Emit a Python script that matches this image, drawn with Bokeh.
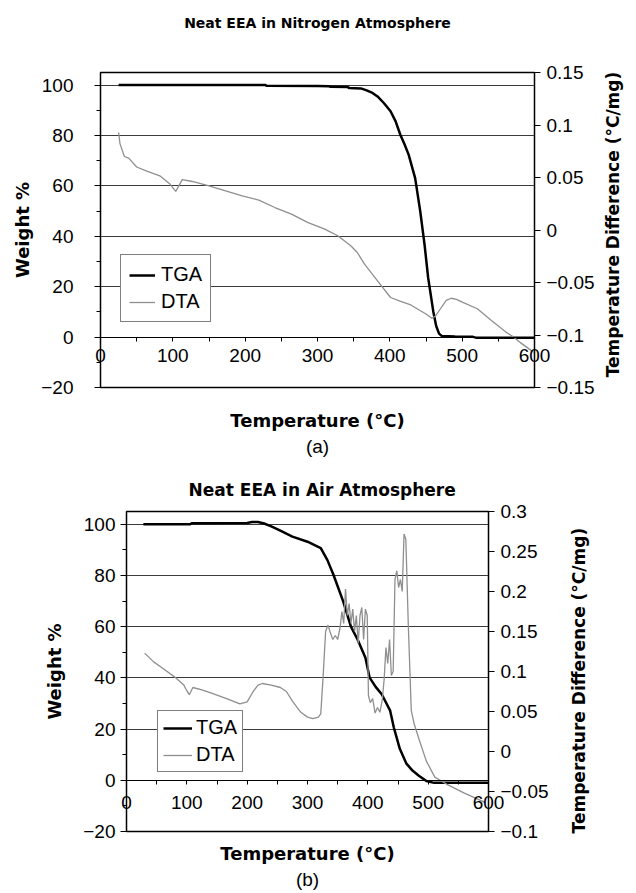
import math
from bokeh.plotting import figure
from bokeh.models import Range1d, LinearAxis, FixedTicker, Legend, LegendItem, Title
from bokeh.layouts import column
from bokeh.embed import file_html
from bokeh.resources import INLINE

# ---------------- data: (a) Neat EEA in nitrogen ----------------
n2_tga_temp = [25, 100, 200, 228, 230, 300, 316, 318, 342, 344,
               360, 368, 376, 383, 392, 401, 408, 414.5, 420, 426,
               435, 442, 448, 453, 460, 464, 468, 472, 490, 515,
               520, 600]
n2_tga_wt = [100, 100, 100, 100, 99.7, 99.6, 99.5, 99.3, 99.2, 98.8,
             98.7, 97.9, 96.9, 95.5, 92.8, 89.6, 85.6, 80.3, 76.7, 72.4,
             63.1, 50, 36.7, 23.5, 10.3, 4.5, 1.4, 0.4, 0.2, 0.1,
             -0.3, -0.3]

n2_dta_temp = [25, 27, 33, 39, 50, 64, 82, 96, 104, 109,
               113, 127, 150, 173, 196, 219, 241, 264, 287, 310,
               328, 346, 355, 365, 383, 401, 415, 428, 440, 450,
               458, 463, 470, 478, 485, 492, 501, 521, 540, 560,
               569, 580, 600]
n2_dta_val = [0.093, 0.082, 0.070, 0.0685, 0.060, 0.056, 0.0516, 0.0437, 0.0367, 0.043,
              0.048, 0.0462, 0.0421, 0.0373, 0.0326, 0.0285, 0.0214, 0.0151, 0.0071, 0.0009,
              -0.0055, -0.015, -0.0214, -0.0325, -0.0484, -0.0643, -0.068, -0.071, -0.076, -0.080,
              -0.084, -0.082, -0.075, -0.067, -0.065, -0.066, -0.069, -0.075, -0.086, -0.097,
              -0.101, -0.107, -0.117]

# ---------------- data: (b) Neat EEA in air ----------------
air_tga_temp = [28, 105, 108, 200, 208, 218, 228, 240, 255, 275,
                300, 322, 333, 343, 359, 372, 383, 396, 403, 413,
                423, 437, 443, 453, 464, 474, 484, 497, 510, 600]
air_tga_wt = [100, 100, 100.4, 100.5, 100.9, 100.9, 100.3, 99.2, 97.5, 95.2,
              93.2, 90.7, 86, 80.3, 70, 60, 55, 47.9, 40.1, 36.5,
              33.6, 27.2, 20.7, 12.3, 6.5, 3.8, 1.9, -0.3, -1, -1]

air_dta_temp = [30, 45, 60, 80, 95, 100, 104, 110, 125, 141,
                168, 188, 200, 210, 218, 225, 240, 255, 265, 275,
                289, 300, 309, 318, 322, 326, 330, 334, 338, 342,
                346, 350, 354, 357, 360, 363, 366, 369, 372, 375,
                378, 381, 384, 387, 390, 393, 396, 399, 401, 404,
                408, 412, 416, 420, 424, 427, 430, 433, 436, 439,
                442, 445, 448, 451, 454, 457, 460, 463, 467, 472,
                477, 485, 497, 511, 531, 560, 595]
air_dta_val = [0.123, 0.112, 0.104, 0.093, 0.083, 0.076, 0.071, 0.080, 0.077, 0.073,
               0.0655, 0.0595, 0.062, 0.075, 0.083, 0.085, 0.083, 0.080, 0.075, 0.063,
               0.049, 0.043, 0.041, 0.043, 0.047, 0.095, 0.150, 0.158, 0.148, 0.140,
               0.145, 0.140, 0.155, 0.175, 0.160, 0.203, 0.170, 0.185, 0.160, 0.178,
               0.150, 0.170, 0.135, 0.170, 0.180, 0.140, 0.178, 0.170, 0.070, 0.061,
               0.066, 0.048, 0.055, 0.049, 0.065, 0.090, 0.130, 0.110, 0.140, 0.095,
               0.100, 0.215, 0.226, 0.205, 0.215, 0.200, 0.272, 0.265, 0.160, 0.051,
               0.034, 0.015, -0.012, -0.032, -0.041, -0.052, -0.064]

# ---------------- axes ----------------
temp_ticks = [0, 100, 200, 300, 400, 500, 600]
temp_minor = [50, 150, 250, 350, 450, 550]
weight_ticks = [-20, 0, 20, 40, 60, 80, 100]
weight_minor = [-10, 10, 30, 50, 70, 90]
weight_grid = [0, 20, 40, 60, 80, 100]
n2_dta_ticks = [-0.15, -0.1, -0.05, 0, 0.05, 0.1, 0.15]
n2_dta_labels = ["\u22120.15", "\u22120.1", "\u22120.05", "0", "0.05", "0.1", "0.15"]
air_dta_ticks = [-0.1, -0.05, 0, 0.05, 0.1, 0.15, 0.2, 0.25, 0.3]
air_dta_labels = ["\u22120.1", "\u22120.05", "0", "0.05", "0.1", "0.15", "0.2", "0.25", "0.3"]

REG = "Liberation Sans"
BOLD = "DejaVu Sans"
TICK_SIZE = "19px"
BOLD_SIZE = "18px"
RLAB_SIZE = "17px"
RLAB_TEXT = "Temperature Difference (\u00b0C/mg)"


def bold_text(obj, prefix, size):
    setattr(obj, prefix + "_text_font", BOLD)
    setattr(obj, prefix + "_text_font_style", "bold")
    setattr(obj, prefix + "_text_font_size", size)
    setattr(obj, prefix + "_text_color", "black")


def make_chart(title, title_size, title_mode, title_offset, title_standoff,
               tga_t, tga_w, dta_t, dta_v, dta_range, dta_ticks, dta_labels,
               width, height, mb_left, mb_right, mb_top, mb_bottom,
               ylab_standoff, ytick_standoff, rlab_standoff, rlab_center,
               xtick_standoff, xlab_standoff, sub_text, sub_standoff,
               legend_loc, legend_pad, legend_spacing, legend_label_h, legend_glyph_w,
               legend_standoff):
    p = figure(width=width, height=height, x_range=Range1d(0, 600), y_range=Range1d(-20, 105),
               output_backend="svg", toolbar_location=None,
               min_border_left=mb_left, min_border_right=mb_right,
               min_border_top=mb_top, min_border_bottom=mb_bottom)
    p.frame_align = False
    p.background_fill_color = "white"
    p.border_fill_color = "white"
    p.outline_line_color = "black"
    p.outline_line_width = 1.5
    p.extra_y_ranges = {"dta": Range1d(*dta_range)}
    xa = p.below[0]
    ya = p.left[0]

    if title_mode == "title":
        p.title.text = title
        p.title.align = "left"
        p.title.offset = title_offset
        p.title.text_font = BOLD
        p.title.text_font_style = "bold"
        p.title.text_font_size = title_size
        p.title.text_color = "black"
        p.title.standoff = title_standoff
    else:
        # chart title written as the label of an empty axis above the frame
        ta = LinearAxis(ticker=FixedTicker(ticks=[]), major_tick_out=0, major_tick_in=0,
                        axis_line_color=None, major_tick_line_color=None,
                        minor_tick_line_color=None, major_label_text_color=None)
        ta.axis_label = title
        bold_text(ta, "axis_label", title_size)
        ta.axis_label_standoff = title_standoff
        p.add_layout(ta, "above")

    # grid
    p.xgrid.visible = False
    p.ygrid.ticker = FixedTicker(ticks=weight_grid)
    p.ygrid.grid_line_color = "#3a3a3a"
    p.ygrid.grid_line_width = 1

    # left axis
    ya.ticker = FixedTicker(ticks=weight_ticks, minor_ticks=weight_minor)
    ya.major_label_overrides = {-20: "\u221220"}
    ya.major_tick_in = 0
    ya.major_tick_out = 6
    ya.minor_tick_in = 0
    ya.minor_tick_out = 4
    ya.axis_line_color = "black"
    ya.major_tick_line_color = "black"
    ya.minor_tick_line_color = "black"
    ya.major_label_text_font = REG
    ya.major_label_text_font_size = TICK_SIZE
    ya.major_label_text_color = "black"
    ya.major_label_standoff = ytick_standoff
    ya.axis_label = "Weight %"
    bold_text(ya, "axis_label", BOLD_SIZE)
    ya.axis_label_standoff = ylab_standoff

    # x axis line and ticks crossing at weight = 0
    xa.fixed_location = 0
    xa.ticker = FixedTicker(ticks=temp_ticks, minor_ticks=temp_minor)
    xa.major_tick_in = 0
    xa.major_tick_out = 4
    xa.minor_tick_in = 0
    xa.minor_tick_out = 4
    xa.axis_line_color = "black"
    xa.major_tick_line_color = "black"
    xa.minor_tick_line_color = "black"
    xa.major_label_text_color = None

    # x tick labels (drawn up inside the frame, just under the 0 line) + axis title
    xl = LinearAxis(ticker=FixedTicker(ticks=temp_ticks))
    xl.major_tick_in = 0
    xl.major_tick_out = 0
    xl.major_tick_line_color = None
    xl.minor_tick_line_color = None
    xl.axis_line_color = None
    xl.major_label_text_font = REG
    xl.major_label_text_font_size = TICK_SIZE
    xl.major_label_text_color = "black"
    xl.major_label_standoff = xtick_standoff
    xl.axis_label = "Temperature (\u00b0C)"
    bold_text(xl, "axis_label", BOLD_SIZE)
    xl.axis_label_standoff = xlab_standoff
    p.add_layout(xl, "below")

    p.add_layout(Title(text=sub_text, align="center", text_font=REG,
                       text_font_style="normal", text_font_size=TICK_SIZE,
                       text_color="black", standoff=sub_standoff), "below")

    # right axis
    ra = LinearAxis(y_range_name="dta",
                    ticker=FixedTicker(ticks=dta_ticks),
                    major_label_overrides=dict(zip(dta_ticks, dta_labels)))
    ra.major_tick_in = 0
    ra.major_tick_out = 6
    ra.minor_tick_line_color = None
    ra.axis_line_color = "black"
    ra.major_tick_line_color = "black"
    ra.major_label_text_font = REG
    ra.major_label_text_font_size = TICK_SIZE
    ra.major_label_text_color = "black"
    ra.major_label_standoff = 6
    p.add_layout(ra, "right")

    # title of the right axis, written as the single rotated label of an outer axis
    rt = LinearAxis(y_range_name="dta", ticker=FixedTicker(ticks=[rlab_center]),
                    major_label_overrides={rlab_center: RLAB_TEXT},
                    major_label_orientation=math.pi / 2)
    rt.major_tick_in = 0
    rt.major_tick_out = 0
    rt.major_tick_line_color = None
    rt.minor_tick_line_color = None
    rt.axis_line_color = None
    bold_text(rt, "major_label", RLAB_SIZE)
    rt.major_label_standoff = rlab_standoff
    p.add_layout(rt, "right")

    # series
    r_tga = p.line(tga_t, tga_w, line_color="black", line_width=2.5)
    r_dta = p.line(dta_t, dta_v, y_range_name="dta", line_color="#8f8f8f", line_width=1.3)

    legend = Legend(items=[LegendItem(label="TGA", renderers=[r_tga]),
                           LegendItem(label="DTA", renderers=[r_dta])],
                    location=legend_loc)
    legend.border_line_color = "black"
    legend.border_line_width = 1
    legend.background_fill_color = "white"
    legend.background_fill_alpha = 1
    legend.label_text_font = REG
    legend.label_text_font_size = "20px"
    legend.label_text_color = "black"
    legend.label_height = legend_label_h
    legend.glyph_height = legend_label_h
    legend.glyph_width = legend_glyph_w
    legend.label_standoff = legend_standoff
    legend.padding = legend_pad
    legend.spacing = legend_spacing
    legend.margin = 0
    p.add_layout(legend, "center")
    return p


p1 = make_chart("Neat EEA in Nitrogen Atmosphere", "14px", "axis", 0, 42,
                n2_tga_temp, n2_tga_wt, n2_dta_temp, n2_dta_val,
                (-0.15, 0.15), n2_dta_ticks, n2_dta_labels,
                width=636, height=460, mb_left=100, mb_right=97, mb_top=72, mb_bottom=73,
                ylab_standoff=5, ytick_standoff=21, rlab_standoff=16, rlab_center=-0.0046,
                xtick_standoff=-39, xlab_standoff=45, sub_text="(a)", sub_standoff=0,
                legend_loc=(20, 65), legend_pad=8, legend_spacing=4, legend_label_h=22,
                legend_glyph_w=26, legend_standoff=6)

p2 = make_chart("Neat EEA in Air Atmosphere", "17px", "title", 62, 24,
                air_tga_temp, air_tga_wt, air_dta_temp, air_dta_val,
                (-0.1, 0.3), air_dta_ticks, air_dta_labels,
                width=636, height=433, mb_left=126, mb_right=148, mb_top=51, mb_bottom=62,
                ylab_standoff=15, ytick_standoff=5, rlab_standoff=28, rlab_center=0.0659,
                xtick_standoff=-36, xlab_standoff=31, sub_text="(b)", sub_standoff=0,
                legend_loc=(31, 59), legend_pad=5, legend_spacing=4, legend_label_h=20,
                legend_glyph_w=29, legend_standoff=4)

layout = column(p1, p2, spacing=0)
open("out.html", "w").write(file_html(layout, INLINE))
